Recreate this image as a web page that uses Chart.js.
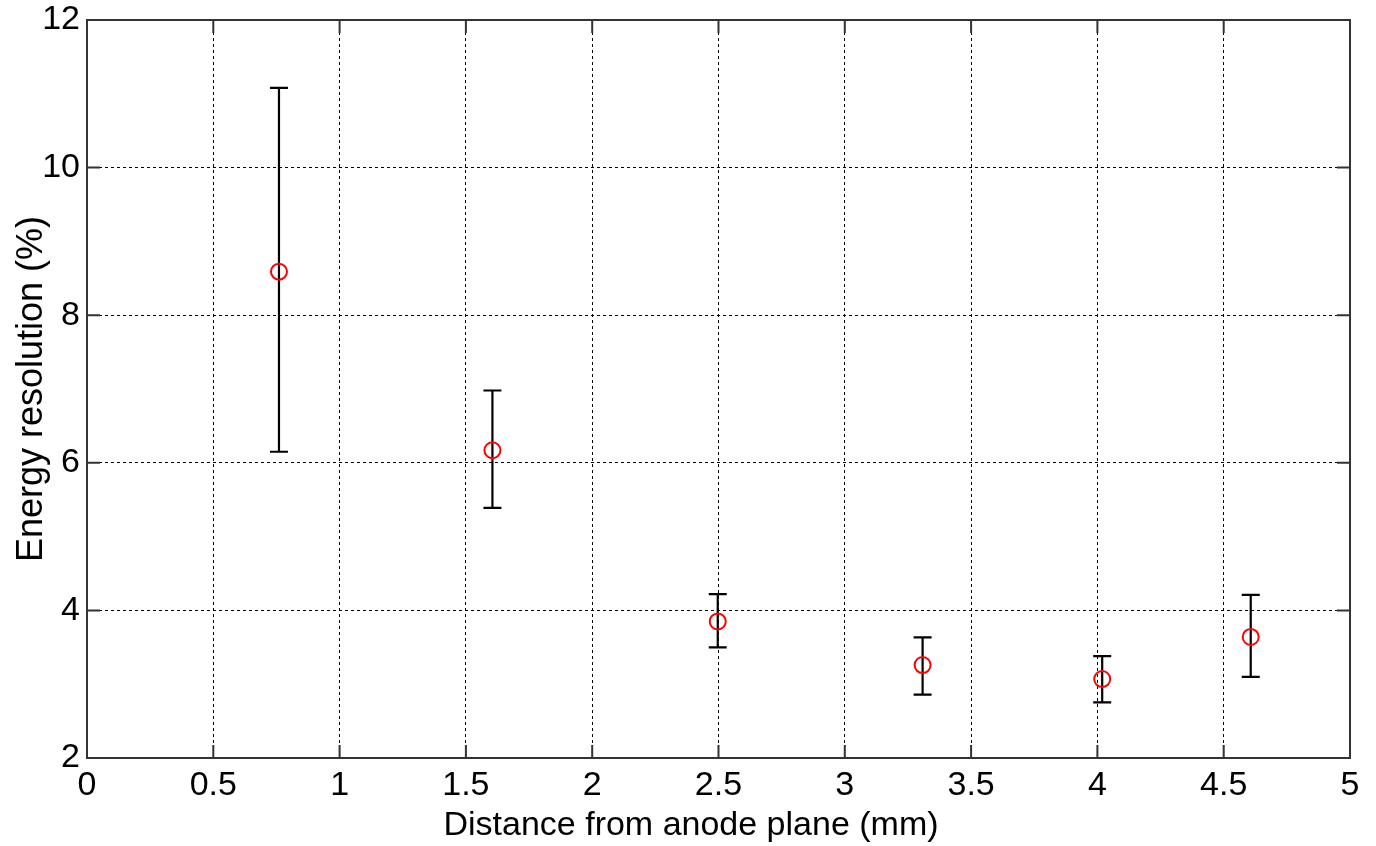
<!DOCTYPE html>
<html>
<head>
<meta charset="utf-8">
<script src="https://cdn.jsdelivr.net/npm/chart.js@4/dist/chart.umd.min.js"></script>
<style>
  html, body { margin: 0; padding: 0; background: #fff; }
  #wrap { width: 1376px; height: 846px; }
</style>
</head>
<body>
<div id="wrap"><canvas id="myChart" width="1376" height="846"></canvas></div>
<script>
// measurements: distance (mm), resolution (%), and error bar ends
const distance = [0.76, 1.605, 2.497, 3.308, 4.019, 4.607];
const resolution = [8.59, 6.17, 3.85, 3.26, 3.07, 3.64];
const errLow = [6.15, 5.39, 3.50, 2.86, 2.755, 3.10];
const errHigh = [11.08, 6.98, 4.22, 3.635, 3.38, 4.21];

const xTicks = [0, 0.5, 1, 1.5, 2, 2.5, 3, 3.5, 4, 4.5, 5];
const yTicks = [2, 4, 6, 8, 10, 12];

const xTitle = 'Distance from anode plane (mm)';
const yTitle = 'Energy resolution (%)';

const family = 'Liberation Sans, Arial, sans-serif';
const tickFont = { family, size: 34 };

// vertical error bars with caps, drawn under the markers
const errorBars = {
  id: 'errorBars',
  beforeDatasetsDraw(chart) {
    const { ctx, scales: { x, y } } = chart;
    ctx.save();
    ctx.strokeStyle = '#000';
    ctx.lineWidth = 2.2;
    distance.forEach((d, i) => {
      const px = x.getPixelForValue(d);
      const top = y.getPixelForValue(errHigh[i]);
      const bot = y.getPixelForValue(errLow[i]);
      ctx.beginPath();
      ctx.moveTo(px, top); ctx.lineTo(px, bot);
      ctx.moveTo(px - 9, top); ctx.lineTo(px + 9, top);
      ctx.moveTo(px - 9, bot); ctx.lineTo(px + 9, bot);
      ctx.stroke();
    });
    ctx.restore();
  }
};

// box around the plot with inward ticks on every side, plus axis titles
const frame = {
  id: 'frame',
  afterDraw(chart) {
    const { ctx, chartArea: a, scales: { x, y } } = chart;
    const len = 13;
    ctx.save();
    ctx.strokeStyle = '#333';
    ctx.lineWidth = 2;
    ctx.beginPath();
    xTicks.forEach(v => {
      const px = x.getPixelForValue(v);
      ctx.moveTo(px, a.bottom); ctx.lineTo(px, a.bottom - len);
      ctx.moveTo(px, a.top); ctx.lineTo(px, a.top + len);
    });
    yTicks.forEach(v => {
      const py = y.getPixelForValue(v);
      ctx.moveTo(a.left, py); ctx.lineTo(a.left + len, py);
      ctx.moveTo(a.right, py); ctx.lineTo(a.right - len, py);
    });
    ctx.stroke();
    ctx.strokeRect(a.left, a.top, a.right - a.left, a.bottom - a.top);

    ctx.fillStyle = '#000';
    ctx.textAlign = 'center';
    ctx.textBaseline = 'alphabetic';
    ctx.font = '34px ' + family;
    ctx.fillText(xTitle, 691, 835);
    ctx.translate(42, (a.top + a.bottom) / 2);
    ctx.rotate(-Math.PI / 2);
    ctx.font = '36px ' + family;
    ctx.fillText(yTitle, 0, 0);
    ctx.restore();
  }
};

const context = document.getElementById('myChart').getContext('2d');
const myChart = new Chart(context, {
  type: 'scatter',
  data: {
    datasets: [{
      data: distance.map((d, i) => ({ x: d, y: resolution[i] })),
      pointStyle: 'circle',
      pointRadius: 8,
      pointHoverRadius: 8,
      borderColor: '#ff0000',
      backgroundColor: 'rgba(0,0,0,0)',
      borderWidth: 2
    }]
  },
  options: {
    responsive: false,
    animation: false,
    layout: { padding: { top: 20, right: 26, left: 0, bottom: 0 } },
    plugins: { legend: { display: false }, tooltip: { enabled: false } },
    scales: {
      x: {
        type: 'linear', min: 0, max: 5,
        afterBuildTicks: s => { s.ticks = xTicks.map(v => ({ value: v })); },
        afterFit: s => { s.height = 88; s.paddingLeft = 0; s.paddingRight = 0; },
        ticks: { color: '#000', font: tickFont, padding: 7, maxRotation: 0, callback: v => String(v) },
        grid: { color: '#000', lineWidth: 1, drawTicks: false },
        border: { display: false, dash: [3, 3] }
      },
      y: {
        type: 'linear', min: 2, max: 12,
        afterBuildTicks: s => { s.ticks = yTicks.map(v => ({ value: v })); },
        afterFit: s => { s.width = 87; s.paddingTop = 0; s.paddingBottom = 0; },
        ticks: { color: '#000', font: tickFont, padding: 7, callback: v => String(v) },
        grid: { color: '#000', lineWidth: 1, drawTicks: false },
        border: { display: false, dash: [3, 3] }
      }
    }
  },
  plugins: [errorBars, frame]
});
</script>
</body>
</html>
